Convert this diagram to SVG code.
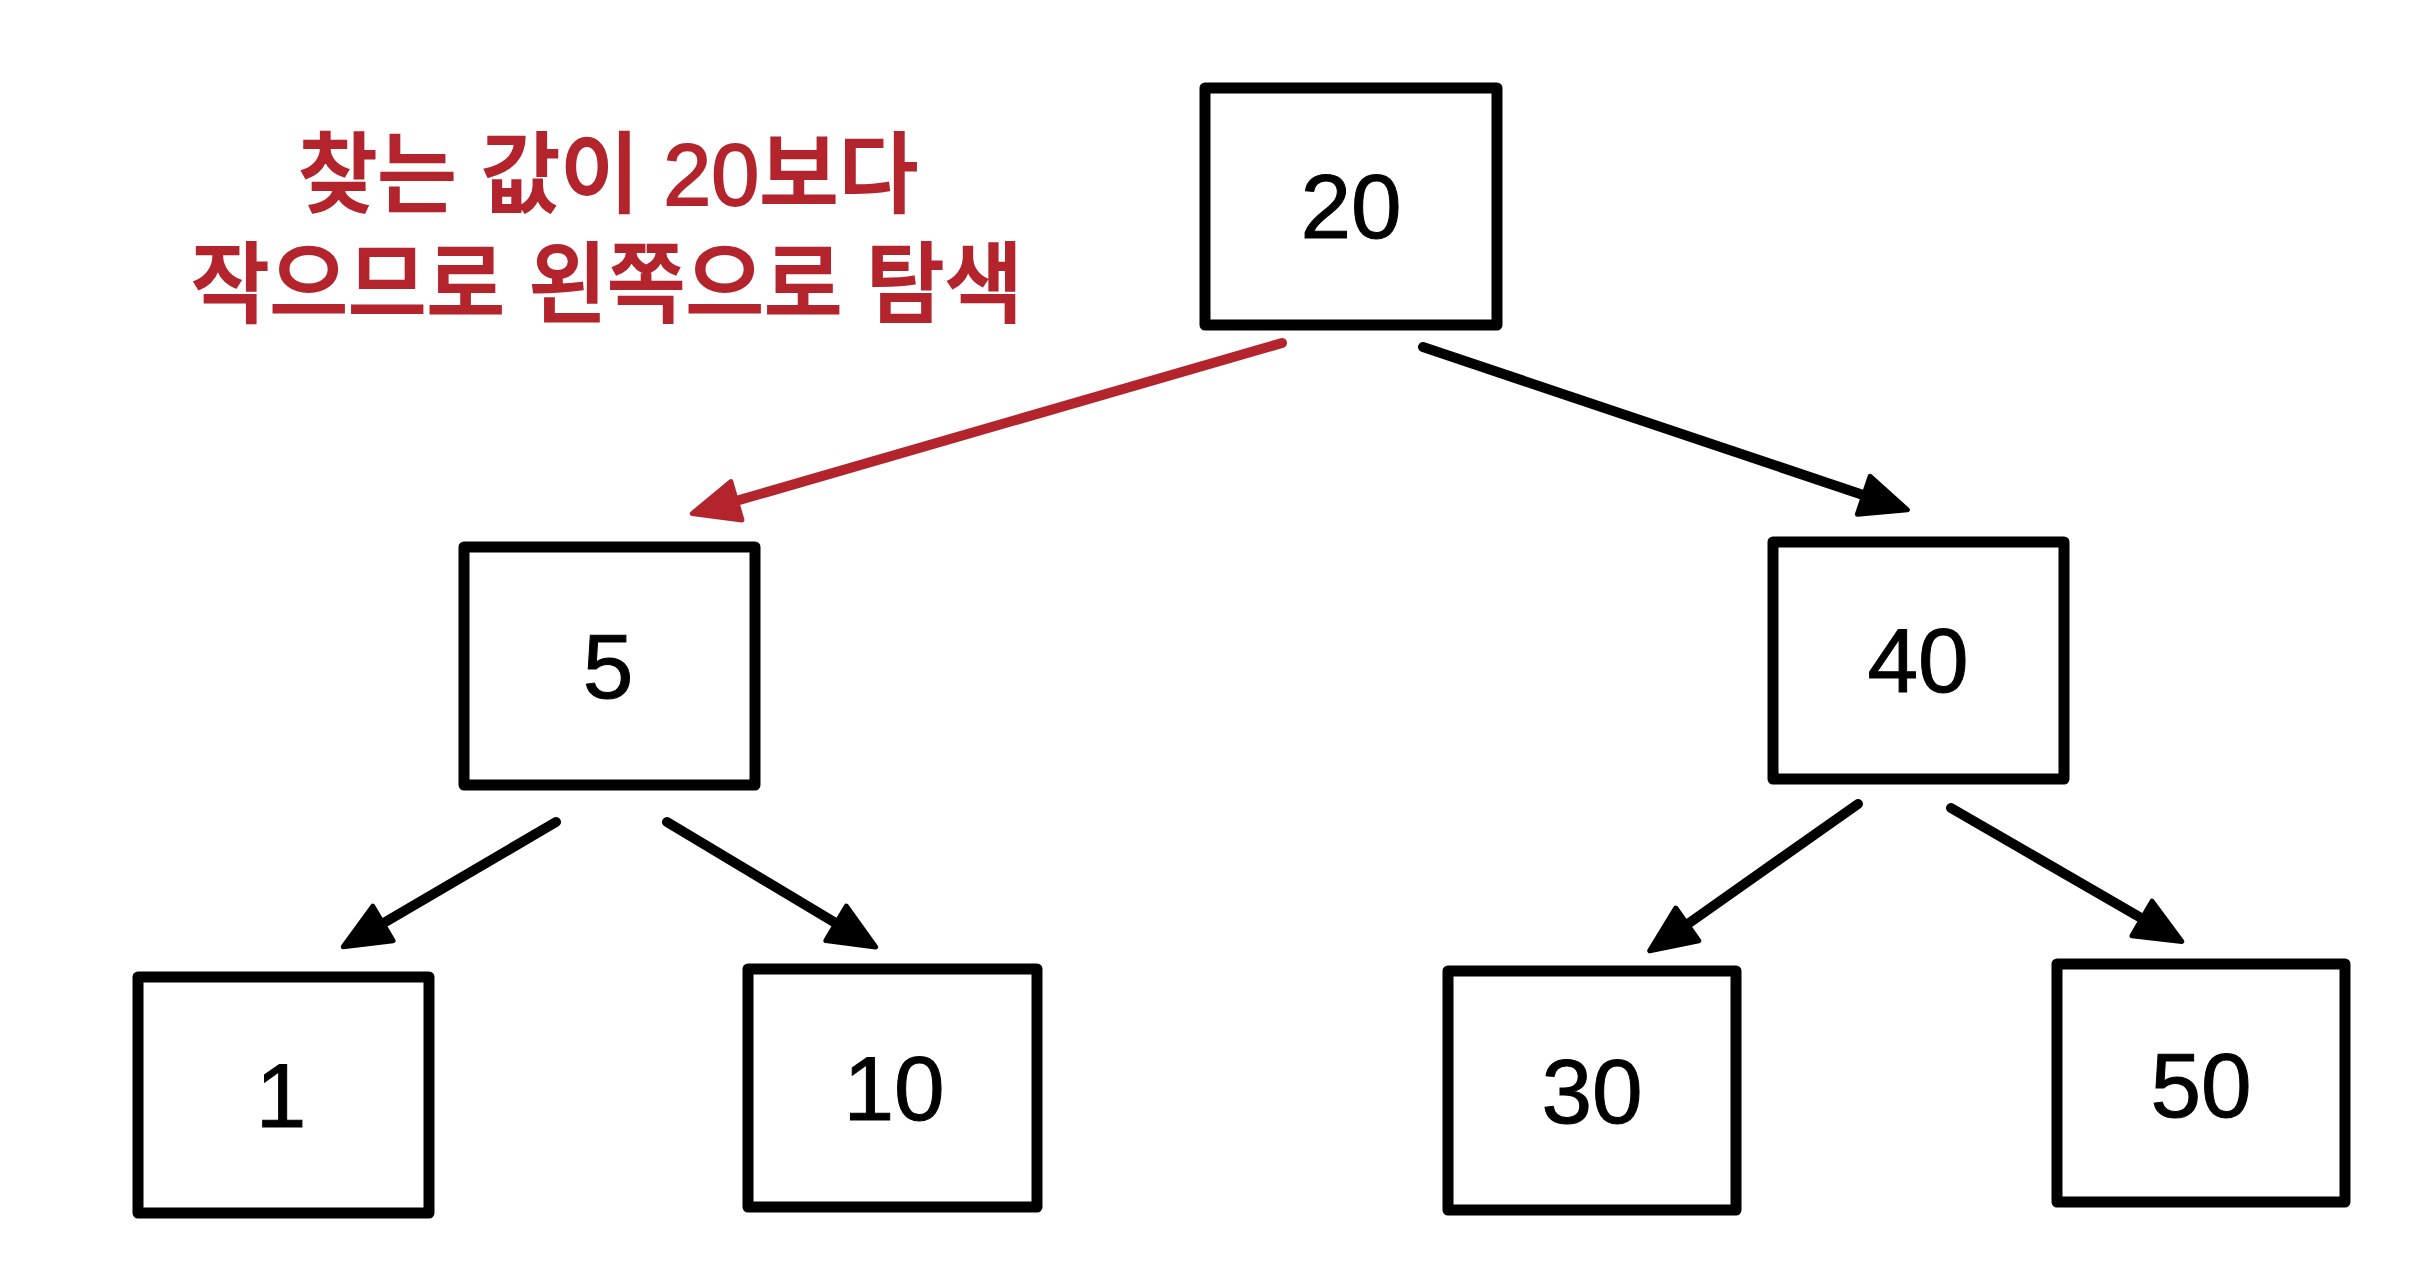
<svg xmlns="http://www.w3.org/2000/svg" width="2436" height="1276" viewBox="0 0 2436 1276">
<style>
.box{fill:#fff;stroke:#000;stroke-width:11;stroke-linejoin:round}
.num{font-family:"Liberation Sans",Arial,sans-serif;font-size:91px;fill:#000;text-anchor:middle;stroke:#000;stroke-width:1}
.note{font-family:"Liberation Sans","Noto Sans CJK KR",sans-serif;font-size:88px;font-weight:500;fill:#B3242C;text-anchor:middle;stroke:#B3242C;stroke-width:1.8}
.edge{fill:none;stroke:#000;stroke-width:10;stroke-linecap:round}
.edge.red{stroke:#B3242C}
</style>
<defs>
<marker id="ah" markerUnits="userSpaceOnUse" markerWidth="60" markerHeight="60" viewBox="-5 -5 60 50" refX="15" refY="20" orient="auto">
<path d="M0,0 L46,20 L0,40 z" fill="#000" stroke="#000" stroke-width="5" stroke-linejoin="round"/>
</marker>
<marker id="ahr" markerUnits="userSpaceOnUse" markerWidth="60" markerHeight="60" viewBox="-5 -5 60 50" refX="15" refY="20" orient="auto">
<path d="M0,0 L46,20 L0,40 z" fill="#B3242C" stroke="#B3242C" stroke-width="5" stroke-linejoin="round"/>
</marker>
</defs>
<rect width="2436" height="1276" fill="#fff"/>
<g id="note">
<text class="note" x="608" y="205" textLength="620" lengthAdjust="spacingAndGlyphs">찾는 값이 20보다</text>
<text class="note" x="607" y="315" textLength="832" lengthAdjust="spacingAndGlyphs">작으므로 왼쪽으로 탐색</text>
</g>
<g id="connectors">
<path class="edge red" d="M1282,343 L722,505" marker-end="url(#ahr)"/>
<path class="edge" d="M1423,347 L1878,500" marker-end="url(#ah)"/>
<path class="edge" d="M556,822 L370,931" marker-end="url(#ah)"/>
<path class="edge" d="M667,822 L849,931" marker-end="url(#ah)"/>
<path class="edge" d="M1858,804 L1675,933" marker-end="url(#ah)"/>
<path class="edge" d="M1951,808 L2155,926" marker-end="url(#ah)"/>
</g>
<g id="n20"><rect class="box" x="1205" y="88" width="292" height="237"/><text class="num" x="1351" y="238">20</text></g>
<g id="n5"><rect class="box" x="464" y="547" width="291" height="238"/><text class="num" x="608" y="698">5</text></g>
<g id="n40"><rect class="box" x="1773" y="542" width="291" height="237"/><text class="num" x="1918" y="692">40</text></g>
<g id="n1"><rect class="box" x="138" y="977" width="291" height="236"/><text class="num" x="281" y="1127">1</text></g>
<g id="n10"><rect class="box" x="748" y="969" width="289" height="238"/><text class="num" x="894" y="1120">10</text></g>
<g id="n30"><rect class="box" x="1448" y="971" width="288" height="239"/><text class="num" x="1592" y="1123">30</text></g>
<g id="n50"><rect class="box" x="2057" y="964" width="288" height="238"/><text class="num" x="2201" y="1117">50</text></g>
</svg>
